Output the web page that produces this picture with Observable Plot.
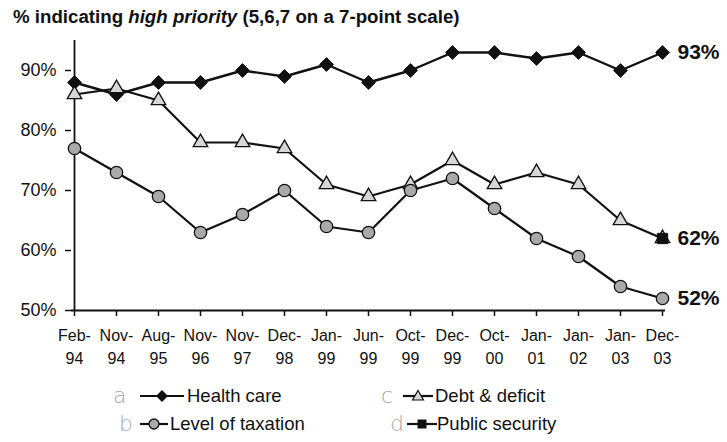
<!DOCTYPE html>
<html><head><meta charset="utf-8">
<script src="https://cdn.jsdelivr.net/npm/d3@7"></script>
<script src="https://cdn.jsdelivr.net/npm/@observablehq/plot@0.6"></script>
<style>
body{margin:0;background:#fff;}
#wrap{position:relative;width:727px;height:442px;overflow:hidden;background:#fff;color:#111;font-family:"Liberation Sans",Arial,sans-serif;}
#title{position:absolute;left:13px;top:6px;font-weight:bold;font-size:18.7px;font-family:"Liberation Sans",sans-serif;white-space:nowrap;}
#chart{position:absolute;left:0;top:30px;}
.lt{position:absolute;font-size:18.5px;white-space:nowrap;line-height:20px;font-family:"Liberation Sans",sans-serif;}
.hw{position:absolute;font-size:22px;color:#a8a8a8;font-family:"DejaVu Sans";font-weight:200;line-height:20px;}
.ic{position:absolute;}
</style></head>
<body><div id="wrap">
<div id="title">% indicating <i>high priority</i> (5,6,7 on a 7-point scale)</div>
<div id="chart"></div>
<div id="legend"></div>
</div>
<script>
const dates = ["Feb-94","Nov-94","Aug-95","Nov-96","Nov-97","Dec-98","Jan-99","Jun-99","Oct-99","Dec-99","Oct-00","Jan-01","Jan-02","Jan-03","Dec-03"];
const healthCare      = [88,86,88,88,90,89,91,88,90,93,93,92,93,90,93];
const debtDeficit     = [86,87,85,78,78,77,71,69,71,75,71,73,71,65,62];
const levelOfTaxation = [77,73,69,63,66,70,64,63,70,72,67,62,59,54,52];
const publicSecurityDates  = ["Dec-03"];
const publicSecurityValues = [62];
const yTicks = [50,60,70,80,90];
const seriesNames = ["Health care","Level of taxation","Debt & deficit","Public security"];
const handLetters = ["a","b","c","d"];

const rows = (vals, ds, name) => vals.map((v,i)=>({date: ds[i], value: v, series: name}));
const hc = rows(healthCare, dates, seriesNames[0]);
const tx = rows(levelOfTaxation, dates, seriesNames[1]);
const dd = rows(debtDeficit, dates, seriesNames[2]);
const ps = rows(publicSecurityValues, publicSecurityDates, seriesNames[3]);
const endLabels = [hc[hc.length-1], ps[ps.length-1], tx[tx.length-1]];

const ink = "#111";
const plot = Plot.plot({
  width: 727, height: 345,
  marginLeft: 71, marginRight: 62, marginTop: 10, marginBottom: 65,
  style: {fontFamily: "Liberation Sans, Arial, sans-serif", color: ink, background: "transparent"},
  x: {type: "point", domain: dates, padding: 0},
  y: {domain: [50, 95]},
  marks: [
    Plot.axisY({ticks: yTicks, tickFormat: d => d + "%", tickSize: 6, tickPadding: 9, fontSize: 18, label: null, strokeWidth: 1.5}),
    Plot.axisX({tickSize: 6, tickPadding: 8, tickFormat: d => d.replace("-", "-\n"), lineHeight: 1.45, fontSize: 16, label: null, strokeWidth: 1.5}),
    Plot.ruleX([dates[0]], {y1: 50, y2: 95, stroke: ink, strokeWidth: 1.8}),
    Plot.ruleY([50], {stroke: ink, strokeWidth: 1.8}),
    Plot.line(dd, {x: "date", y: "value", stroke: ink, strokeWidth: 2.2}),
    Plot.line(tx, {x: "date", y: "value", stroke: ink, strokeWidth: 2.2}),
    Plot.line(hc, {x: "date", y: "value", stroke: ink, strokeWidth: 2.4}),
    Plot.dot(hc, {x: "date", y: "value", symbol: "diamond2", r: 6.2, fill: ink, stroke: ink, strokeWidth: 1}),
    Plot.dot(dd, {x: "date", y: "value", symbol: "triangle", r: 5.4, fill: "#d6d6d6", stroke: ink, strokeWidth: 1.3}),
    Plot.dot(tx, {x: "date", y: "value", symbol: "circle", r: 6.2, fill: "#a9a9a9", stroke: ink, strokeWidth: 1.3}),
    Plot.dot(ps, {x: "date", y: "value", symbol: "square", r: 5.8, fill: ink, stroke: ink, strokeWidth: 1}),
    Plot.text(endLabels, {x: "date", y: "value", text: d => d.value + "%", dx: 15, textAnchor: "start", fontWeight: "bold", fontSize: 21, fill: ink})
  ]
});
document.getElementById("chart").appendChild(plot);

// legend
const icon = (w, kind) => {
  const cx = w/2;
  let sym = "";
  if (kind === 0) sym = `<path d="M${cx},3 L${cx+6},9 L${cx},15 L${cx-6},9Z" fill="${ink}"/>`;
  if (kind === 1) sym = `<circle cx="${cx}" cy="9" r="5" fill="#a9a9a9" stroke="${ink}" stroke-width="1.3"/>`;
  if (kind === 2) sym = `<path d="M${cx},3.5 L${cx+5.5},13 L${cx-5.5},13Z" fill="#d6d6d6" stroke="${ink}" stroke-width="1.2"/>`;
  if (kind === 3) sym = `<rect x="${cx-4.5}" y="4.5" width="9" height="9" fill="${ink}"/>`;
  return `<svg width="${w}" height="18"><line x1="0" x2="${w}" y1="9" y2="9" stroke="${ink}" stroke-width="2.2"/>${sym}</svg>`;
};
const legPos = [
  {hx: 113, ix: 140, iw: 44, tx: 187, y: 386},
  {hx: 119, ix: 140, iw: 28, tx: 170, y: 414},
  {hx: 381, ix: 403, iw: 30, tx: 435, y: 386},
  {hx: 390, ix: 407, iw: 30, tx: 437, y: 414}
];
const leg = document.getElementById("legend");
seriesNames.forEach((name, i) => {
  const p = legPos[i];
  leg.insertAdjacentHTML("beforeend",
    `<div class="hw" style="left:${p.hx}px;top:${p.y}px">${handLetters[i]}</div>` +
    `<div class="ic" style="left:${p.ix}px;top:${p.y+1}px">${icon(p.iw, i)}</div>` +
    `<div class="lt" style="left:${p.tx}px;top:${p.y}px">${name}</div>`);
});
</script>
</body></html>
